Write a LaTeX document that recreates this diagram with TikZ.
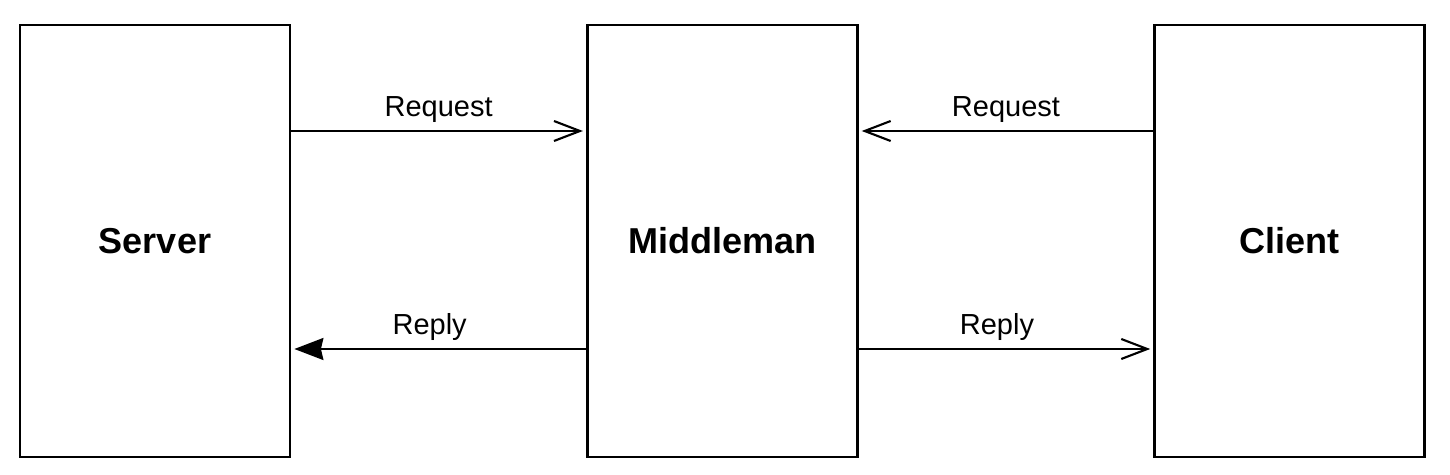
\documentclass[tikz,border=0pt]{standalone}
\usepackage{fontspec}
\setmainfont{Liberation Sans}
\usetikzlibrary{arrows.meta, positioning}

\begin{document}
\begin{tikzpicture}[
  box/.style={draw, line width=1.6pt, minimum width=5.4cm, minimum height=8.64cm,
    inner sep=0pt, font=\fontsize{20.5}{24}\selectfont\bfseries},
  open/.style={-{Straight Barb[length=0.52cm, width=0.4cm]}, line width=1.2pt, shorten >=0.06cm},
  solid/.style={-{Stealth[length=0.58cm, width=0.44cm, inset=0.05cm]}, line width=1.2pt, shorten >=0.06cm},
  lbl/.style={midway, anchor=base, yshift=0.29cm, font=\fontsize{16.5}{20}\selectfont},
  node distance=5.89cm
]
\useasboundingbox (-3.1,-4.68) rectangle (25.9,4.82);

\node[box] (server) {Server};
\node[box, right=of server] (middle) {Middleman};
\node[box, right=of middle] (client) {Client};

% requests go towards the middleman
\draw[open] ([yshift=2.2cm]server.east) -- ([yshift=2.2cm]middle.west)
  node[lbl] {Request};
\draw[open] ([yshift=2.2cm]client.west) -- ([yshift=2.2cm]middle.east)
  node[lbl] {Request};

% replies
\draw[solid] ([yshift=-2.16cm]middle.west) -- ([yshift=-2.16cm]server.east)
  node[lbl, xshift=-0.18cm] {Reply};
\draw[open] ([yshift=-2.16cm]middle.east) -- ([yshift=-2.16cm]client.west)
  node[lbl, xshift=-0.18cm] {Reply};
\end{tikzpicture}
\end{document}
